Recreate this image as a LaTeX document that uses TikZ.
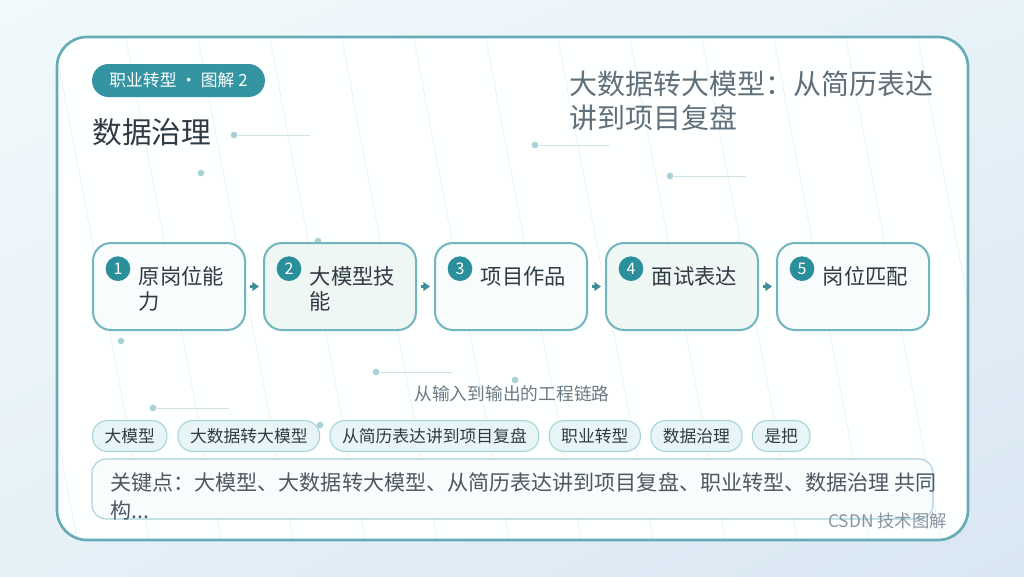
\documentclass[tikz,border=0pt]{standalone}
\usepackage{fontspec}
\setmainfont{Noto Sans CJK SC}
\usetikzlibrary{arrows.meta,positioning,shadings}
\definecolor{pill}{HTML}{3594A2}
\definecolor{numc}{HTML}{2B8E9B}
\definecolor{boxb}{HTML}{72B5BF}
\definecolor{boxa}{HTML}{F8FCFD}
\definecolor{boxg}{HTML}{EEF7F3}
\definecolor{chipf}{HTML}{E8F5F7}
\definecolor{chipb}{HTML}{A6D2D8}
\definecolor{dotc}{HTML}{A9D2D8}
\definecolor{decl}{HTML}{CFE3E7}
\definecolor{ttl}{HTML}{2E3B45}
\definecolor{sub}{HTML}{5F707A}
\definecolor{capc}{HTML}{6B7B85}
\definecolor{foot}{HTML}{8795A0}
\definecolor{bgA}{HTML}{F1F9FB}
\definecolor{bgB}{HTML}{D9E7F3}
\definecolor{panelb}{HTML}{66ACB6}
\definecolor{faint}{HTML}{ECF1F4}
\definecolor{arrc}{HTML}{3D8D97}
\begin{document}
\begin{tikzpicture}[x=0.75pt,y=-0.75pt,
  stepbox/.style={draw=boxb,line width=1.5pt,rounded corners=13.5pt,minimum width=114pt,minimum height=65.25pt,inner sep=0pt},
  numdot/.style={circle,fill=numc,text=white,minimum size=18.5pt,inner sep=0pt,font=\fontsize{12}{12}\selectfont},
  steptxt/.style={anchor=north west,align=left,inner sep=0pt,text=ttl,font=\fontsize{16}{18.75}\selectfont},
  chip/.style={draw=chipb,fill=chipf,line width=0.8pt,rounded corners=11pt,minimum height=23pt,inner xsep=9pt,inner ysep=0pt,text=ttl,font=\fontsize{12.6}{14}\selectfont},
  arr/.style={draw=arrc,line width=1.8pt,-{Triangle[length=5pt,width=6.5pt]}},
  deco/.style={draw=decl,line width=0.7pt},
  dotn/.style={circle,fill=dotc,inner sep=0pt,minimum size=5pt}
]
\useasboundingbox (0,0) rectangle (1024,576);
% background
\shade[upper left=bgA,upper right=bgA!60!bgB,lower left=bgA!50!bgB,lower right=bgB] (0,0) rectangle (1024,576);
% panel
\fill[white!96!bgA] (57,37) [rounded corners=22.5pt] rectangle (968,540);
\begin{scope}
\clip (57,37) [rounded corners=22.5pt] rectangle (968,540);
\foreach \i in {-2,...,12} {
  \draw[faint,line width=0.6pt] ({125.5+72*\i},37) -- ({125.5+72*\i+95.6},540);
}
\end{scope}
\draw[panelb,line width=2pt] (57,37) [rounded corners=22.5pt] rectangle (968,540);

% decorations
\node[dotn] (d1) at (234,135) {}; \coordinate (d1e) at (310,135); \draw[deco] (d1) -- (d1e);
\node[dotn] (d2) at (201,173) {};
\node[dotn] (d3) at (535,145) {}; \coordinate (d3e) at (610,145); \draw[deco] (d3) -- (d3e);
\node[dotn] (d4) at (670,176) {}; \coordinate (d4e) at (746,176); \draw[deco] (d4) -- (d4e);
\node[dotn] (d5) at (318,241) {};
\node[dotn] (d6) at (121,341) {};
\node[dotn] (d7) at (376,372) {}; \coordinate (d7e) at (452,372); \draw[deco] (d7) -- (d7e);
\node[dotn] (d8) at (515,380) {};
\node[dotn] (d9) at (153,408) {}; \coordinate (d9e) at (229,408); \draw[deco] (d9) -- (d9e);
\node[dotn] (d10) at (320,425) {};

% tag pill
\node[fill=pill,rounded corners=12.4pt,minimum width=129.75pt,minimum height=24.75pt,inner sep=0pt,text=white,font=\fontsize{12.6}{12.6}\selectfont] (tag) at (178.5,80.5) {职业转型 · 图解 2};
% titles
\node[anchor=west,inner sep=0pt,text=ttl,font=\fontsize{22.3}{22.3}\selectfont] (title) at (92,132) {数据治理};
\node[anchor=north west,align=left,inner sep=0pt,text=sub,font=\fontsize{21}{25.5}\selectfont] (subtitle) at (569,71) {大数据转大模型：从简历表达\\讲到项目复盘};

% steps
\node[stepbox,fill=boxa] (b1) at (169,286.5) {};
\node[stepbox,fill=boxg] (b2) at (340,286.5) {};
\node[stepbox,fill=boxa] (b3) at (511,286.5) {};
\node[stepbox,fill=boxg] (b4) at (682,286.5) {};
\node[stepbox,fill=boxa] (b5) at (853,286.5) {};
\foreach \k/\t in {1/{原岗位能\\力},2/{大模型技\\能},3/{项目作品},4/{面试表达},5/{岗位匹配}} {
  \node[numdot] (n\k) at ([xshift=19.5pt,yshift=-20pt]b\k.north west) {\k};
  \node[steptxt] (t\k) at ([xshift=35pt,yshift=-18pt]b\k.north west) {\t};
}
\draw[arr] ([xshift=3pt]b1.east) -- ([xshift=-3pt]b2.west);
\draw[arr] ([xshift=3pt]b2.east) -- ([xshift=-3pt]b3.west);
\draw[arr] ([xshift=3pt]b3.east) -- ([xshift=-3pt]b4.west);
\draw[arr] ([xshift=3pt]b4.east) -- ([xshift=-3pt]b5.west);

% caption
\node[text=capc,inner sep=0pt,font=\fontsize{13.3}{13.3}\selectfont] (cap) at (512,394) {从输入到输出的工程链路};

% chips
\node[chip,anchor=west] (c1) at (92,436) {大模型};
\node[chip,right=7.5pt of c1] (c2) {大数据转大模型};
\node[chip,right=7pt of c2] (c3) {从简历表达讲到项目复盘};
\node[chip,right=7pt of c3] (c4) {职业转型};
\node[chip,right=7pt of c4] (c5) {数据治理};
\node[chip,right=7pt of c5] (c6) {是把};

% key box
\draw[chipb,fill=white!70!chipf,line width=0.8pt,rounded corners=10.5pt] (92,459) rectangle (933,519);
\node[anchor=north west,align=left,inner sep=0pt,text=ttl!85!white,font=\fontsize{15.8}{21}\selectfont] (key) at (110,472) {关键点：大模型、大数据转大模型、从简历表达讲到项目复盘、职业转型、数据治理 共同\\构...};

% footer
\node[anchor=east,inner sep=0pt,text=foot,font=\fontsize{13}{13}\selectfont] (footer) at (947,521) {CSDN 技术图解};
\end{tikzpicture}
\end{document}
